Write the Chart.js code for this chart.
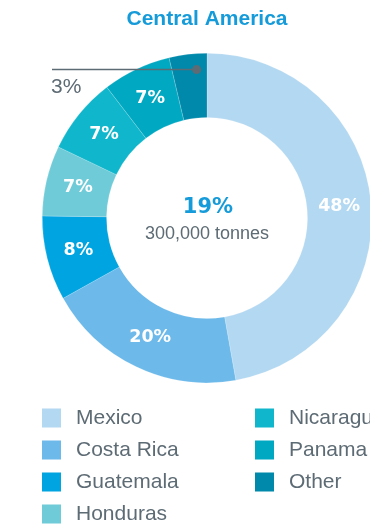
<!DOCTYPE html>
<html>
<head>
<meta charset="utf-8">
<script src="https://cdn.jsdelivr.net/npm/chart.js@4"></script>
<style>
  html, body { margin: 0; padding: 0; background: #fff; overflow: hidden; }
  #wrap { width: 400px; height: 524px; }
</style>
</head>
<body>
<div id="wrap"><canvas id="chart" width="400" height="524"></canvas></div>
<script>
var title = "Central America";
var countries = ["Mexico", "Costa Rica", "Guatemala", "Honduras", "Nicaragua", "Panama", "Other"];
// slice sizes
var shares = [47.2, 19.7, 8.3, 6.9, 7.5, 6.7, 3.7];
// percentages as printed on the slices
var shareLabels = ["48%", "20%", "8%", "7%", "7%", "7%", "3%"];
var colors = ["#b3d8f1", "#6cb9ea", "#00a4e1", "#6fcbd8", "#10b7cc", "#00a8c1", "#0089ab"];
var centerValue = "19%";
var centerCaption = "300,000 tonnes";

var font = "'Liberation Sans', Arial, Helvetica, sans-serif";
var boldFont = "'DejaVu Sans', 'Liberation Sans', sans-serif";
var grey = "#5d6b74";
var blue = "#159bd9";

var drawExtras = {
    id: 'drawExtras',
    afterDatasetsDraw: function (chart) {
        var ctx = chart.ctx;
        var meta = chart.getDatasetMeta(0);
        ctx.save();
        ctx.textAlign = 'center';
        ctx.textBaseline = 'middle';

        // slice labels
        for (let i = 0; i < meta.data.length; i++) {
            let arc = meta.data[i];
            if (countries[i] === "Other") {
                // small slice: label outside with a leader line
                let ang = arc.startAngle + (arc.endAngle - arc.startAngle) * 0.7;
                let r = arc.outerRadius - 16;
                let px = arc.x + Math.cos(ang) * r;
                let py = arc.y + Math.sin(ang) * r;
                ctx.strokeStyle = grey;
                ctx.lineWidth = 1.5;
                ctx.beginPath();
                ctx.moveTo(52, py);
                ctx.lineTo(px, py);
                ctx.stroke();
                ctx.fillStyle = grey;
                ctx.beginPath();
                ctx.arc(px, py, 4.5, 0, Math.PI * 2);
                ctx.fill();
                ctx.textAlign = 'left';
                ctx.font = "21px " + font;
                ctx.fillText(shareLabels[i], 51, py + 18);
                ctx.textAlign = 'center';
                continue;
            }
            let pos = arc.tooltipPosition();
            ctx.fillStyle = "#ffffff";
            ctx.font = "bold 17.5px " + boldFont;
            ctx.fillText(shareLabels[i], pos.x, pos.y);
        }

        // centre text
        let cx = meta.data[0].x, cy = meta.data[0].y;
        ctx.fillStyle = blue;
        ctx.font = "bold 21px " + boldFont;
        ctx.fillText(centerValue, cx + 1, cy - 10);
        ctx.fillStyle = grey;
        ctx.font = "18px " + font;
        ctx.fillText(centerCaption, cx, cy + 16);

        // title
        ctx.fillStyle = blue;
        ctx.font = "bold 21px " + font;
        ctx.fillText(title, 207, 19);

        // legend, two columns filled top to bottom
        ctx.textAlign = 'left';
        ctx.font = "21px " + font;
        for (let i = 0; i < countries.length; i++) {
            let col = i < 4 ? 0 : 1;
            let row = i < 4 ? i : i - 4;
            let x = col === 0 ? 42 : 255;
            let y = 417.5 + row * 32;
            ctx.fillStyle = colors[i];
            ctx.fillRect(x, y - 9, 19, 19);
            ctx.fillStyle = grey;
            ctx.fillText(countries[i], x + 34, y + 1);
        }
        ctx.restore();
    }
};

new Chart(document.getElementById("chart"), {
    type: 'doughnut',
    data: {
        labels: countries,
        datasets: [{
            data: shares,
            backgroundColor: colors,
            borderColor: "rgba(255,255,255,0.35)",
            borderWidth: 0.5
        }]
    },
    options: {
        responsive: false,
        animation: false,
        cutout: '61%',
        layout: {
            padding: { left: 42, right: 28, top: 53, bottom: 141 }
        },
        plugins: {
            legend: { display: false },
            tooltip: { enabled: false },
            title: { display: false }
        }
    },
    plugins: [drawExtras]
});
</script>
</body>
</html>
